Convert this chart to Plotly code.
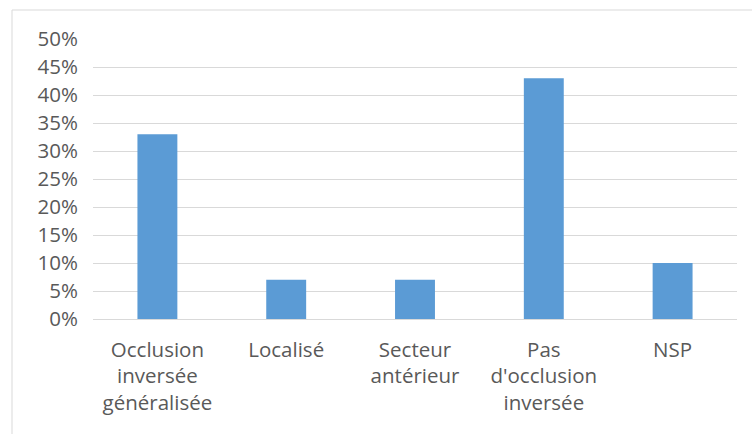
import plotly.graph_objects as go

categories = ["Occlusion<br>inversée<br>généralisée", "Localisé", "Secteur<br>antérieur",
              "Pas<br>d'occlusion<br>inversée", "NSP"]
values = [0.33, 0.07, 0.07, 0.43, 0.10]
y_ticks = [i * 0.05 for i in range(11)]
y_labels = [f"{i*5}%" for i in range(11)]

fig = go.Figure(go.Bar(x=categories, y=values, marker_color="#5B9BD5",
                       marker_line_width=0, width=0.31, hoverinfo="skip"))

L, R, T, B = 93, 15, 39, 115
W, H = 752, 434
pw, ph = W - L - R, H - T - B

fig.update_layout(
    width=W, height=H,
    margin=dict(l=L, r=R, t=T, b=B),
    paper_bgcolor="white", plot_bgcolor="white",
    font=dict(family="Open Sans", size=20.5, color="#595959"),
    showlegend=False,
    bargap=0.69,
    shapes=[dict(type="rect", xref="paper", yref="paper",
                 x0=(12 - L) / pw, x1=(W + 10 - L) / pw,
                 y0=-(H + 10 - (H - B)) / ph, y1=(ph + T - 10) / ph,
                 line=dict(color="#D9D9D9", width=1), fillcolor="rgba(0,0,0,0)", layer="below")],
)
fig.update_yaxes(range=[0, 0.5], tickvals=y_ticks, ticktext=y_labels,
                 showgrid=True, gridcolor="#D9D9D9", gridwidth=1,
                 zeroline=False, showline=False, ticks="", ticklabelstandoff=14)
fig.update_xaxes(showline=True, linecolor="#D9D9D9", linewidth=1, ticks="",
                 ticklabelstandoff=12, tickangle=0)

fig.write_html("out.html", config={"displayModeBar": False},
               post_script="document.body.style.margin='0';")
